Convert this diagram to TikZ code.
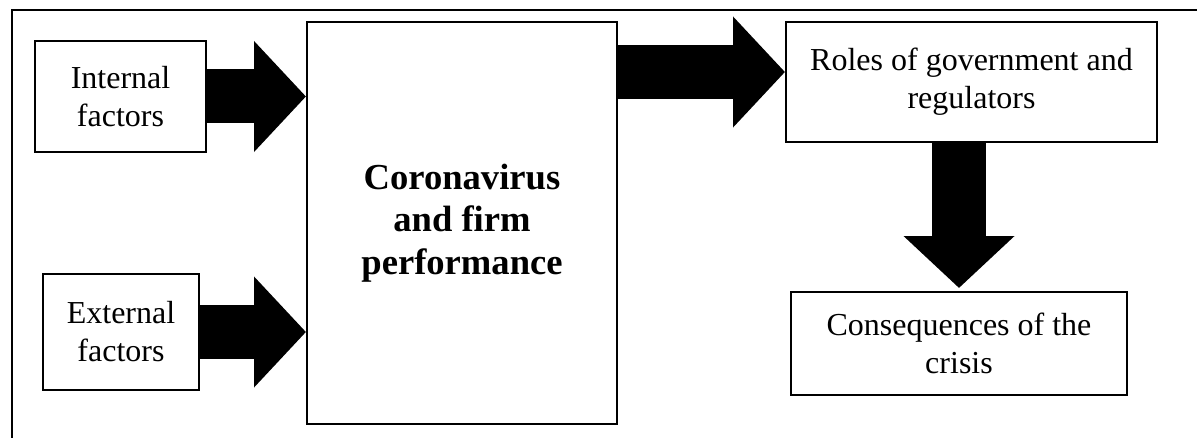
\documentclass[tikz,border=0pt]{standalone}
\usepackage{fontspec}
\setmainfont{Liberation Serif}
\usetikzlibrary{arrows.meta,positioning}

\tikzset{
  factor/.style={draw,line width=1pt,inner sep=0pt,align=center,
    font=\fontsize{16pt}{19pt}\selectfont},
  topic/.style={draw,line width=1pt,inner sep=0pt,align=center,
    font=\fontsize{18.3pt}{21.3pt}\selectfont\bfseries},
  blockarrow/.style={line width=27pt,
    -{Triangle[length=26pt 0,width=54pt 0]}}
}

\begin{document}
\begin{tikzpicture}[x=0.5pt,y=-0.5pt]
  \useasboundingbox (0,0) rectangle (1197,438);
  \clip (0,0) rectangle (1197,438);
  % outer frame
  \draw[line width=0.8pt] (12,10) rectangle (1215,460);
  % the factors on the left
  \node[factor,minimum width=85.5pt,minimum height=55.5pt] (int) at (120.5,96.5) {Internal\\factors};
  \node[factor,minimum width=78pt,minimum height=58pt] (ext) at (121,332) {External\\factors};
  % the central topic
  \node[topic,minimum width=155pt,minimum height=201pt] (core) at (462,223) {Coronavirus\\and firm\\performance};
  % the right hand side
  \node[factor,minimum width=185.5pt,minimum height=60pt] (roles) at (971.5,82) {Roles of government and\\regulators};
  \node[factor,minimum width=168pt,minimum height=51.5pt] (cons) at (959,343.5) {Consequences of the\\crisis};
  % Now the block arrows
  \draw[blockarrow] (int) -- (core.west |- int);
  \draw[blockarrow] (ext) -- (core.west |- ext);
  \coordinate (rolesin) at ([yshift=5pt]roles.west);
  \draw[blockarrow] (core.east |- rolesin) -- (rolesin);
  \draw[blockarrow] (cons.north |- roles.south) -- ([yshift=1.5pt]cons.north);
\end{tikzpicture}
\end{document}
